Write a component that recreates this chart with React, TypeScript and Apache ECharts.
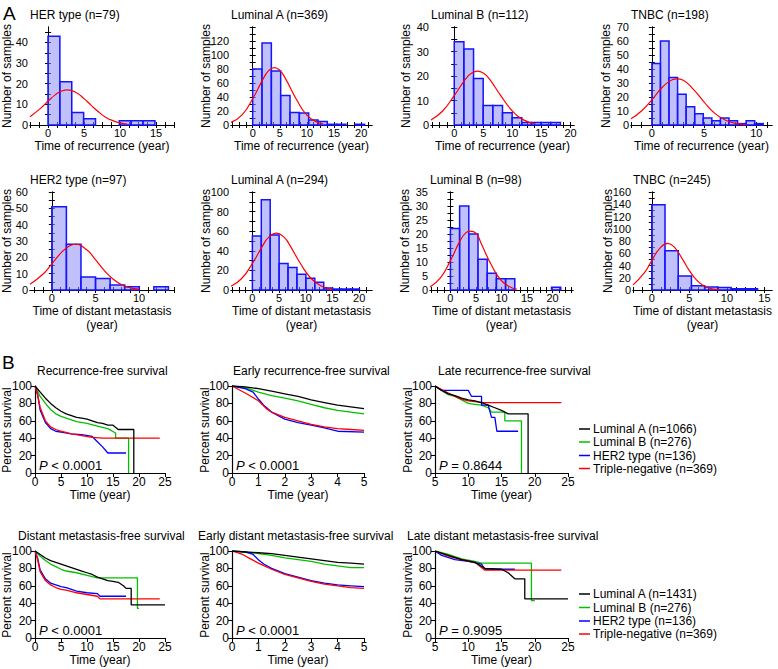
import { useEffect, useRef } from 'react';
import * as echarts from 'echarts';

// ---- Panel A: histograms ----
const histTitles = [
  'HER type (n=79)', 'Luminal A (n=369)', 'Luminal B (n=112)', 'TNBC (n=198)',
  'HER2 type (n=97)', 'Luminal A (n=294)', 'Luminal B (n=98)', 'TNBC (n=245)',
];
const binWidths = [1.65, 1.72, 1.66, 0.82, 1.67, 1.67, 1.8, 1.76];
const binCounts = [
  [43, 21, 6, 3, 0, 0, 2, 2, 2],
  [80, 117, 77, 42, 18, 17, 7, 5, 1, 1, 0, 1],
  [34, 31, 19, 8, 8, 5, 3, 1, 1, 1, 1],
  [44, 60, 34, 22, 13, 8, 5, 3, 5, 3, 1, 3, 1],
  [51, 28, 8, 7, 3, 2, 0, 2],
  [55, 92, 56, 27, 23, 16, 12, 8, 2, 1, 1, 1],
  [22, 30, 20, 11, 6, 4, 4, 0, 0, 0, 0, 1],
  [139, 64, 23, 7, 5, 4, 2, 2],
];
const fitCurves = [
  [[-2.5, 4], [-1, 8.2], [0, 11.5], [1, 14.6], [2, 16.6], [2.7, 17], [4, 15.5], [5, 12.8], [6, 9.5], [7, 6.4], [8, 3.8], [9, 2.1], [10, 1], [11, 0.4]],
  [[-4, 3.7], [-2, 14], [0, 37.5], [2, 67], [3, 78], [4, 82], [5, 78], [6, 67], [8, 37.5], [10, 14], [12, 3.7], [13, 1.6]],
  [[-4, 2], [-2, 5.7], [0, 12], [2, 18.9], [3, 21.2], [4, 22], [5, 21.2], [6, 18.9], [8, 12], [10, 5.7], [12, 2], [14, 0.5]],
  [[-2, 4.4], [-1, 10], [0, 18], [1, 27], [2, 32.5], [2.4, 33], [3, 32], [4, 25.3], [5, 16.4], [6, 8.5], [7, 3.6], [8, 1.2], [9, 0.35]],
  [[-2.5, 3.5], [-1, 9.8], [0, 16], [1, 22.4], [2, 27], [2.7, 28], [4, 24.6], [5, 18.6], [6, 12], [7, 6.7], [8, 3.2], [9, 1.3], [10, 0.5]],
  [[-4, 3.9], [-2, 11.7], [0, 27], [2, 45.8], [3, 53.4], [4.5, 58], [6, 53.4], [7, 45.8], [9, 27], [11, 11.7], [13, 3.9], [15, 0.9]],
  [[-4, 1.1], [-2, 4.2], [0, 10.5], [2, 18], [3, 20.4], [3.8, 21], [5, 20.3], [6, 16.7], [8, 9], [10, 3.3], [12, 0.8], [13, 0.3]],
  [[-2.5, 8.4], [-1, 28], [0, 48], [1, 67], [2.1, 76], [3, 70], [4, 52], [5, 31.7], [6, 15.6], [7, 6.2], [8, 2], [9, 0.6]],
];
const histXRange = [[-2.5, 17.5], [-4, 22], [-4, 20.6], [-2, 11.5], [-2.5, 14], [-4, 22.4], [-4, 24], [-2.5, 16]];
const histXLabels = [
  [0, 5, 10, 15], [0, 5, 10, 15, 20], [0, 5, 10, 15, 20], [0, 5, 10],
  [0, 5, 10], [0, 5, 10, 15, 20], [0, 5, 10, 15, 20], [0, 5, 10, 15],
];
const histYMax = [47.5, 140, 40, 70, 60, 100, 35, 160];
const histYLabels = [
  [0, 10, 20, 30, 40], [0, 20, 40, 60, 80, 100, 120], [0, 10, 20, 30, 40], [0, 10, 20, 30, 40, 50, 60, 70],
  [0, 10, 20, 30, 40, 50, 60], [0, 20, 40, 60, 80, 100], [0, 5, 10, 15, 20, 25, 30, 35], [0, 20, 40, 60, 80, 100, 120, 140, 160],
];
const histXNames = ['Time of recurrence (year)', 'Time of distant metastasis'];

// ---- Panel B: Kaplan-Meier ----
const kmTitles = [
  'Recurrence-free survival', 'Early recurrence-free survival', 'Late recurrence-free survival',
  'Distant metastasis-free survival', 'Early distant metastasis-free survival', 'Late distant metastasis-free survival',
];
const kmXRange = [[0, 25], [0, 5], [5, 25], [0, 25], [0, 5], [5, 25]];
const kmPValues = ['< 0.0001', '< 0.0001', '= 0.8644', '< 0.0001', '< 0.0001', '= 0.9095'];
const legendRow1 = ['Luminal A (n=1066)', 'Luminal B (n=276)', 'HER2 type (n=136)', 'Triple-negative (n=369)'];
const legendRow2 = ['Luminal A (n=1431)', 'Luminal B (n=276)', 'HER2 type (n=136)', 'Triple-negative (n=369)'];
const kmColors = ['#000000', '#00c000', '#0000ff', '#ff0000'];

const lumA = [
  [[0, 100], [1, 93], [2, 86], [3, 80], [4, 75], [5, 71], [6, 68], [7, 66], [8, 64], [9, 63], [10, 62], [11, 60], [12, 58], [13, 57], [14, 55], [15, 55], [16, 50], [19, 50], [19, 0]],
  [[0, 100], [0.5, 99], [1, 97], [1.5, 94], [2, 91], [2.5, 88], [3, 84], [3.5, 81], [4, 78], [4.5, 76], [5, 74]],
  [[5, 100], [6, 95], [7, 91], [8, 89], [9, 86], [10, 84], [11, 83], [12, 81], [13, 78], [14, 75], [15, 72], [16, 68], [19, 68], [19, 0]],
  [[0, 100], [1, 96], [2, 92], [3, 89], [4, 87], [5, 85], [6, 83], [7, 81], [8, 79], [9, 77], [10, 75], [11, 73], [12, 70], [13, 68], [14, 66], [15, 65], [16, 64], [17, 60], [17.5, 57], [18.5, 57], [18.5, 38], [25, 38]],
  [[0, 100], [1, 98], [1.5, 97], [2, 95], [2.5, 93], [3, 91], [3.5, 89], [4, 87], [4.5, 86], [5, 85]],
  [[5, 100], [7, 95], [9, 90], [11, 87], [12.5, 80], [15, 79], [16, 75], [17, 68], [18.5, 68], [18.5, 45], [25, 45]],
];
const lumB = [
  [[0, 100], [1, 88], [2, 80], [3, 73], [4, 68], [5, 65], [6, 63], [7, 61], [8, 59], [10, 57], [12, 54], [14, 51], [15.5, 46], [15.5, 40], [18, 40], [18, 0]],
  [[0, 100], [0.5, 98], [1, 93], [1.5, 89], [2, 86], [2.5, 83], [3, 79], [3.5, 75], [4, 72], [4.5, 70], [5, 68]],
  [[5, 100], [6, 95], [7, 90], [8, 88], [9, 84], [10, 80], [11, 79], [12, 78], [13, 75], [13.5, 70], [15.5, 70], [15.5, 60], [18, 60], [18, 0]],
  [[0, 100], [1, 94], [2, 89], [3, 85], [4, 82], [5, 79], [6, 77], [8, 75], [10, 72], [12, 69], [14, 69], [19.7, 69], [19.7, 34], [20, 34]],
  [[0, 100], [1, 97], [1.5, 95], [2, 92], [2.5, 90], [3, 88], [3.5, 85], [4, 83], [4.5, 81], [5, 81]],
  [[5, 100], [7, 96], [9, 91], [11, 88], [12, 86], [19.5, 86], [19.5, 43], [20, 43]],
];
const her2 = [
  [[0, 100], [0.5, 90], [1, 72], [2, 58], [3, 51], [4, 48], [5, 47], [7, 45], [9, 44], [11, 42], [12, 36], [13, 30], [14, 23], [17.5, 23]],
  [[0, 100], [0.5, 97], [0.8, 93], [1, 85], [1.2, 78], [1.5, 70], [2, 62], [2.5, 58], [3, 55], [3.5, 52], [4, 48], [5, 47]],
  [[5, 100], [6, 95], [10, 95], [10.5, 88], [12, 88], [12, 78], [13, 78], [13.5, 64], [14, 64], [14.3, 48], [17.5, 48]],
  [[0, 100], [0.5, 92], [1, 78], [2, 68], [3, 63], [4, 61], [5, 59], [6, 58], [8, 54], [10, 52], [12, 51], [12.5, 48], [17.5, 48]],
  [[0, 100], [0.5, 99], [0.8, 96], [1, 90], [1.2, 85], [1.5, 80], [2, 74], [2.5, 70], [3, 66], [3.5, 63], [4, 61], [4.5, 60], [5, 59]],
  [[5, 100], [6, 95], [8, 90], [10, 88], [12, 85], [12.5, 79], [17, 79]],
];
const tripleNeg = [
  [[0, 100], [0.5, 90], [1, 75], [2, 60], [3, 53], [4, 50], [5, 48], [7, 45], [9, 43], [11, 41], [13, 40], [24, 40]],
  [[0, 100], [0.5, 92], [1, 83], [1.3, 74], [1.5, 70], [2, 64], [2.5, 60], [3, 56], [3.5, 53], [4, 51], [4.5, 50], [5, 49]],
  [[5, 100], [6, 96], [7, 92], [8, 88], [9, 85], [10, 83], [11, 82], [12, 81], [24, 81]],
  [[0, 100], [0.5, 90], [1, 76], [2, 66], [3, 61], [4, 58], [5, 56], [6, 55], [8, 52], [10, 50], [12, 48], [12.5, 45], [24, 45]],
  [[0, 100], [0.4, 96], [0.7, 91], [1, 86], [1.5, 79], [2, 73], [2.5, 69], [3, 65], [3.5, 62], [4, 60], [4.5, 58], [5, 57]],
  [[5, 100], [7, 94], [9, 90], [11, 87], [12.5, 78], [24, 78]],
];

// ---- layout ----
const histGrids = [
  [30, 27, 144], [231, 27, 141], [431, 27, 143], [631, 27, 141],
  [30, 192, 144], [231, 192, 141], [430, 192, 143], [633, 192, 139],
];
const kmGrids = [[35, 386, 130], [232, 386, 132], [435, 386, 133], [35, 551, 130], [232, 551, 132], [435, 551, 133]];
const kmTitleX = [37, 233, 438, 18, 198, 407];
const FONT = 'Liberation Sans, Arial, sans-serif';

function steps(a: number, b: number, s: number) {
  const out: number[] = [];
  for (let v = Math.ceil(a / s) * s; v <= b + 1e-9; v += s) out.push(+v.toFixed(3));
  return out;
}

export default function App() {
  const ref = useRef<HTMLDivElement>(null);

  useEffect(() => {
    document.body.style.margin = '0';
    if (!ref.current) return;
    const chart = echarts.init(ref.current, null, { renderer: 'svg' });

    const grid: any[] = [];
    const xAxis: any[] = [];
    const yAxis: any[] = [];
    const series: any[] = [];
    const graphic: any[] = [];
    const txt = (x: number, y: number, text: string, opts: any = {}) =>
      graphic.push({ type: 'text', x, y, rotation: opts.rotation || 0, style: { text, fill: '#000', font: `${opts.size || 12}px ${FONT}`, align: opts.align || 'left', verticalAlign: 'middle', rich: opts.rich } });

    const histTick = (ticks: number[], labels: number[] | null) => ({
      axisLine: { show: true, lineStyle: { color: '#000', width: 1 } },
      axisTick: { show: true, inside: true, length: 3, customValues: ticks, lineStyle: { color: '#000' } },
      axisLabel: labels ? { show: true, customValues: labels, color: '#000', fontSize: 11, fontFamily: FONT, margin: 2 } : { show: false },
      splitLine: { show: false },
    });

    histGrids.forEach(([left, top, width], i) => {
      grid.push({ left, top, width, height: 98 });
      const [xmin, xmax] = histXRange[i];
      const xt = steps(xmin, xmax, xmax > 15 ? 1.25 : 1);
      const yt = steps(0, histYMax[i], histYLabels[i][1] / 2);
      xAxis.push({ type: 'value', gridIndex: i, min: xmin, max: xmax, position: 'bottom', ...histTick(xt, histXLabels[i]) });
      xAxis.push({ type: 'value', gridIndex: i, min: xmin, max: xmax, position: 'top', ...histTick(xt, null) });
      yAxis.push({ type: 'value', gridIndex: i, min: 0, max: histYMax[i], position: 'left', ...histTick(yt, histYLabels[i]) });
      yAxis.push({ type: 'value', gridIndex: i, min: 0, max: histYMax[i], position: 'right', ...histTick(yt, null) });
      const bins = binCounts[i].map((c, k) => [k * binWidths[i], (k + 1) * binWidths[i], c]).filter((b) => b[2] > 0);
      series.push({
        type: 'custom', xAxisIndex: 2 * i, yAxisIndex: 2 * i, data: bins, z: 2,
        renderItem: (_p: any, api: any) => {
          const a = api.coord([api.value(0), 0]);
          const b = api.coord([api.value(1), api.value(2)]);
          return { type: 'rect', shape: { x: a[0], y: b[1], width: b[0] - a[0], height: a[1] - b[1] }, style: { fill: 'rgba(140,140,245,0.55)', stroke: '#1414ff', lineWidth: 1.5 } };
        },
      });
      series.push({ type: 'line', xAxisIndex: 2 * i, yAxisIndex: 2 * i, data: fitCurves[i], smooth: true, showSymbol: false, z: 3, lineStyle: { color: '#ff0000', width: 1.2 } });

      txt(left, top - 12, histTitles[i], { size: 12 });
      txt(i % 4 === 0 ? 7 : left - 25, top + 49, 'Number of samples', { size: 12, align: 'center', rotation: Math.PI / 2 });
      if (i < 4) txt(left + width / 2, 146, histXNames[0], { size: 12, align: 'center' });
      else {
        txt(left + width / 2, 311, histXNames[1], { size: 12, align: 'center' });
        txt(left + width / 2, 325, '(year)', { size: 12, align: 'center' });
      }
    });

    const kmData = [lumA, lumB, her2, tripleNeg];
    kmGrids.forEach(([left, top, width], j) => {
      const gi = histGrids.length + j;
      const ai = 2 * histGrids.length + j;
      grid.push({ left, top, width, height: 87 });
      const [xmin, xmax] = kmXRange[j];
      const axisCommon = {
        axisLine: { show: true, lineStyle: { color: '#000', width: 1.2 } },
        axisTick: { show: true, inside: false, length: 4, lineStyle: { color: '#000' } },
        axisLabel: { color: '#000', fontSize: 12, fontFamily: FONT, margin: 3 },
        splitLine: { show: false },
      };
      xAxis.push({ type: 'value', gridIndex: gi, min: xmin, max: xmax, interval: xmax - xmin > 10 ? 5 : 1, ...axisCommon });
      yAxis.push({ type: 'value', gridIndex: gi, min: 0, max: 100, interval: 20, ...axisCommon });
      kmData.forEach((d, c) => {
        series.push({ type: 'line', xAxisIndex: ai, yAxisIndex: ai, data: d[j], showSymbol: false, z: c === 0 ? 4 : 3, lineStyle: { color: kmColors[c], width: 1.3 } });
      });
      txt(kmTitleX[j], top - 15, kmTitles[j], { size: 12 });
      txt(j % 3 === 0 ? 7 : left - 27, top + 44, 'Percent survival', { size: 12, align: 'center', rotation: Math.PI / 2 });
      txt(left + 4, top + 79, `{i|P} ${kmPValues[j]}`, { size: 13, rich: { i: { fontStyle: 'italic', fontSize: 13, fontFamily: FONT } } });
      txt(left + width / 2, top + 109, 'Time (year)', { size: 12, align: 'center' });
    });

    // legends
    [legendRow1, legendRow2].forEach((labels, r) => {
      const ys = r === 0 ? [429, 442, 455.5, 468.5] : [594, 607.5, 621, 634];
      labels.forEach((l, k) => {
        graphic.push({ type: 'line', shape: { x1: 579, y1: ys[k], x2: 590, y2: ys[k] }, style: { stroke: kmColors[k], lineWidth: 1.5 } });
        txt(593, ys[k], l, { size: 12 });
      });
    });

    txt(3, 13, 'A', { size: 19 });
    txt(2, 362, 'B', { size: 19 });

    chart.setOption({ animation: false, grid, xAxis, yAxis, series, graphic });
    return () => chart.dispose();
  }, []);

  return <div ref={ref} style={{ width: 778, height: 669 }} />;
}
